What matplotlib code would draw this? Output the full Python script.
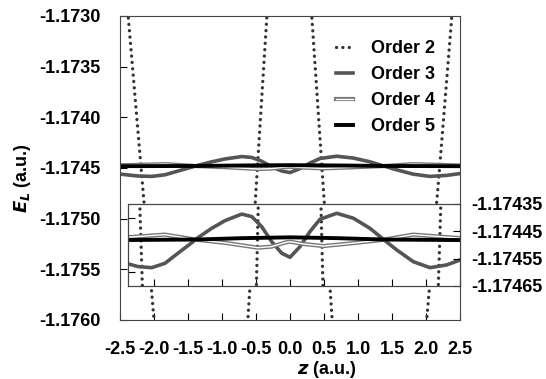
import numpy as np
import matplotlib.pyplot as plt
import matplotlib.patheffects as pe

plt.rcParams['font.family'] = ['Liberation Sans', 'DejaVu Sans']
plt.rcParams['font.weight'] = 'bold'
plt.rcParams['font.size'] = 13

# Order 2 (only steep branches are visible)
z2 = [-2.6, -2.5, -2.38, -2.19, -2.0, -1.9, -1.2, -0.7, -0.62, -0.48, -0.34, -0.25,
      0.0, 0.25, 0.32, 0.47, 0.62, 0.7, 1.2, 1.9, 2.01, 2.2, 2.38, 2.5, 2.6]
e2 = [-1.1714, -1.17215, -1.1730, -1.1745, -1.1760, -1.1768, -1.1800, -1.1766, -1.1760,
      -1.1745, -1.1730, -1.1722, -1.1700, -1.1722, -1.1730, -1.1745, -1.1760, -1.1766,
      -1.1800, -1.1769, -1.1760, -1.1745, -1.1730, -1.17215, -1.1714]

# Order 3
z3 = [-2.5, -2.353, -2.235, -2.034, -1.838, -1.647, -1.446, -1.353, -1.151, -0.956,
      -0.710, -0.563, -0.416, -0.269, -0.122, 0.0, 0.147, 0.294, 0.441, 0.687, 0.931,
      1.176, 1.372, 1.569, 1.813, 2.059, 2.304, 2.5]
e3 = [-1.174560, -1.174571, -1.174579, -1.174583, -1.174567, -1.174530, -1.174492,
      -1.174473, -1.174439, -1.174411, -1.174387, -1.174396, -1.174433, -1.174488,
      -1.174530, -1.174545, -1.174506, -1.174451, -1.174406, -1.174384, -1.174402,
      -1.174439, -1.174479, -1.174518, -1.174561, -1.174583, -1.174573, -1.174555]

# Order 4
z4 = [-2.5, -2.35, -1.84, -1.37, -0.96, -0.47, -0.27, -0.07, 0.0, 0.19, 0.49, 0.98,
      1.37, 1.81, 2.45, 2.5]
e4 = [-1.174472, -1.174471, -1.174462, -1.174481, -1.174492, -1.174510, -1.174506,
      -1.174491, -1.174488, -1.174496, -1.174504, -1.174492, -1.174481, -1.174462,
      -1.174474, -1.174475]

# Order 5
z5 = [-2.5, -1.37, -0.7, 0.0, 0.7, 1.37, 2.5]
e5 = [-1.174482, -1.174480, -1.174475, -1.174472, -1.174475, -1.174480, -1.174482]

labels = ['Order 2', 'Order 3', 'Order 4', 'Order 5']
xticks = [-2.5, -2.0, -1.5, -1.0, -0.5, 0.0, 0.5, 1.0, 1.5, 2.0, 2.5]
yticks = [-1.1730, -1.1735, -1.1740, -1.1745, -1.1750, -1.1755, -1.1760]
inset_ticks = [-1.17435, -1.17445, -1.17455, -1.17465]

fig = plt.figure(figsize=(5.46, 3.79), dpi=100)
ax = fig.add_axes([0.2198, 0.1557, 0.6227, 0.8021])


def draw(a):
    a.plot(z2, e2, color='#333333', lw=2.4, linestyle=(0, (0.01, 1.9)),
           dash_capstyle='round', label=labels[0])
    a.plot(z3, e3, '-', color='#555555', lw=2.6, label=labels[1],
           solid_joinstyle='round')
    a.plot(z4, e4, '-', color='white', lw=1.0, label=labels[2],
           path_effects=[pe.Stroke(linewidth=3.0, foreground='#777777'), pe.Normal()])
    a.plot(z5, e5, '-', color='black', lw=2.8, label=labels[3])


draw(ax)
ax.set_xlim(-2.5, 2.5)
ax.set_ylim(-1.1760, -1.1730)
ax.set_xticks(xticks)
ax.set_xticklabels(['%.1f' % v for v in xticks])
ax.set_yticks(yticks)
ax.set_yticklabels(['%.4f' % v for v in yticks])
ax.tick_params(direction='in', length=5, right=False, top=False)
ax.tick_params(axis='y', pad=14)
ax.tick_params(axis='x', pad=15)
for s in ax.spines.values():
    s.set_color('#444444')
fig.text(0.599, 0.024, r'$\mathbf{\it{z}}$ (a.u.)', ha='center', va='center',
         fontweight='bold', fontsize=13)
fig.text(0.042, 0.53, r'$\mathbf{\it{E}_{L}}$ (a.u.)', ha='center', va='center',
         rotation=90, fontweight='bold', fontsize=13)

ax.legend(loc='upper right', frameon=False, handlelength=0.95, labelspacing=0.5,
          bbox_to_anchor=(0.958, 0.957), borderaxespad=0.2, handletextpad=1.0)

ins = fig.add_axes([0.2344, 0.2454, 0.6081, 0.2164])
draw(ins)
tw = ins.twinx()
ins.set_xlim(-2.5 + 8 / 68, 2.5)
ins.set_ylim(-1.17465, -1.17435)
ins.set_xticks(xticks[1:])
ins.set_xticklabels([])
ins.tick_params(direction='in', length=5)
tw.set_ylim(-1.17465, -1.17435)
tw.set_yticks(inset_ticks)
tw.set_yticklabels(['%.5f' % v for v in inset_ticks])
tw.tick_params(direction='in', length=5, pad=8)
ins.set_yticks([-1.1744, -1.1746])
ins.set_yticklabels([])
for a in (ins, tw):
    for s in a.spines.values():
        s.set_color('#444444')

fig.savefig('out.png', dpi=100)
